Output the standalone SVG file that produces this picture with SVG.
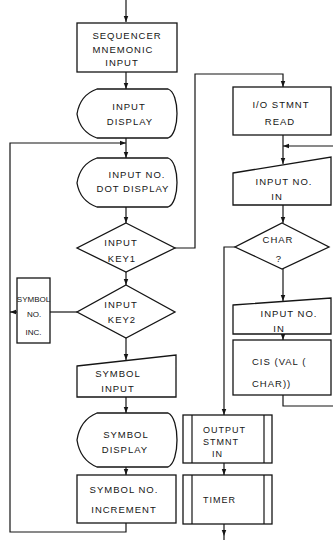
<svg xmlns="http://www.w3.org/2000/svg" width="333" height="540" viewBox="0 0 333 540">
<style>
.s{fill:#fff;stroke:#151515;stroke-width:1.3}
.c{fill:none;stroke:#151515;stroke-width:1.2}
text{font-family:"Liberation Sans","DejaVu Sans",sans-serif;font-size:9.5px;letter-spacing:1px;fill:#151515;text-anchor:middle}
.l{text-anchor:start}
.sm{font-size:8px;letter-spacing:0}
</style>
<defs>
<marker id="a" viewBox="0 0 8 8" refX="8" refY="4" markerWidth="6" markerHeight="6" markerUnits="userSpaceOnUse" orient="auto">
<path d="M0,1 L8,4 L0,7 Z" fill="#151515"/>
</marker>
</defs>
<g id="connectors">
<path class="c" d="M126,0 V22" marker-end="url(#a)"/>
<path class="c" d="M126,72 V89" marker-end="url(#a)"/>
<path class="c" d="M126,138 V158" marker-end="url(#a)"/>
<path class="c" d="M126,523 V532 H10 V143 H126" marker-end="url(#a)"/>
<path class="c" d="M126,207 V223" marker-end="url(#a)"/>
<path class="c" d="M126,272 V285" marker-end="url(#a)"/>
<path class="c" d="M175,248 H195 V74 H283 V87" marker-end="url(#a)"/>
<path class="c" d="M77,312 H50"/>
<path class="c" d="M17,312 H10" marker-end="url(#a)"/>
<path class="c" d="M126,338 V360" marker-end="url(#a)"/>
<path class="c" d="M126,397 V413" marker-end="url(#a)"/>
<path class="c" d="M126,467 V475" marker-end="url(#a)"/>
<path class="c" d="M283,135 V164" marker-end="url(#a)"/>
<path class="c" d="M283,395 V406 H337 V146 H283" marker-end="url(#a)"/>
<path class="c" d="M283,205 V223" marker-end="url(#a)"/>
<path class="c" d="M283,269 V301" marker-end="url(#a)"/>
<path class="c" d="M283,334 V340" marker-end="url(#a)"/>
<path class="c" d="M235,247 H224 V415" marker-end="url(#a)"/>
<path class="c" d="M224,463 V475" marker-end="url(#a)"/>
<path class="c" d="M224,524 V536" marker-end="url(#a)"/>
<path class="c" d="M224,536 V540"/>
</g>
<g id="seq">
<rect class="s" x="77" y="23" width="100" height="49"/>
<text x="127" y="38.5">SEQUENCER</text>
<text x="123" y="52.5">MNEMONIC</text>
<text x="122" y="66">INPUT</text>
</g>
<g id="inputDisplay">
<path class="s" d="M97,89 Q80,95 77,114 Q80,132 97,138 H168 C180,134 180,93 168,89 Z"/>
<text x="129" y="110">INPUT</text>
<text x="130" y="125">DISPLAY</text>
</g>
<g id="dotDisplay">
<path class="s" d="M97,158 Q80,164 77,183 Q80,201 97,207 H168 C180,203 180,162 168,158 Z"/>
<text x="137" y="178">INPUT NO.</text>
<text x="133" y="192">DOT DISPLAY</text>
</g>
<g id="key1">
<path class="s" d="M126,223 L175,248 L126,272 L77,248 Z"/>
<text x="121" y="245.5">INPUT</text>
<text x="122" y="261.5">KEY1</text>
</g>
<g id="key2">
<path class="s" d="M126,285 L175,312 L126,338 L77,312 Z"/>
<text x="121" y="308">INPUT</text>
<text x="122" y="323">KEY2</text>
</g>
<g id="symInc">
<rect class="s" x="17" y="278" width="33" height="65"/>
<text class="sm" x="33.5" y="302">SYMBOL</text>
<text class="sm" x="34" y="317">NO.</text>
<text class="sm" x="33.5" y="335">INC.</text>
</g>
<g id="symInput">
<path class="s" d="M77,366 L176,355 V397 H77 Z"/>
<text x="118" y="377">SYMBOL</text>
<text x="118" y="392">INPUT</text>
</g>
<g id="symDisplay">
<path class="s" d="M97,413 Q80,420 77,440 Q80,460 97,467 H168 C180,462 180,418 168,413 Z"/>
<text x="126" y="438">SYMBOL</text>
<text x="125" y="453">DISPLAY</text>
</g>
<g id="symIncrement">
<rect class="s" x="77" y="475" width="99" height="48"/>
<text x="124" y="493">SYMBOL NO.</text>
<text x="124" y="513">INCREMENT</text>
</g>
<g id="ioRead">
<rect class="s" x="233" y="87" width="98" height="48"/>
<text x="281" y="108">I/O STMNT</text>
<text x="280" y="125">READ</text>
</g>
<g id="inputNoIn1">
<path class="s" d="M233,173 L331,157 V205 H233 Z"/>
<text x="284" y="185">INPUT NO.</text>
<text x="277" y="200">IN</text>
</g>
<g id="char">
<path class="s" d="M282,223 L329,247 L282,269 L235,247 Z"/>
<text x="278" y="243">CHAR</text>
<text x="279" y="262">?</text>
</g>
<g id="inputNoIn2">
<path class="s" d="M233,305 L331,298 V334 H233 Z"/>
<text x="289" y="317">INPUT NO.</text>
<text x="279" y="332">IN</text>
</g>
<g id="cis">
<rect class="s" x="233" y="340" width="98" height="55"/>
<text class="l" x="252" y="365">CIS (VAL (</text>
<text class="l" x="252" y="387">CHAR))</text>
</g>
<g id="outputStmnt">
<rect class="s" x="183" y="415" width="89" height="48"/>
<path class="c" d="M192,415 V463 M264,415 V463"/>
<text class="l" x="203" y="433" style="font-size:9px">OUTPUT</text>
<text class="l" x="203" y="445" style="font-size:9px">STMNT</text>
<text class="l" x="212" y="457" style="font-size:9px">IN</text>
</g>
<g id="timer">
<rect class="s" x="183" y="475" width="89" height="49"/>
<path class="c" d="M192,475 V524 M264,475 V524"/>
<text class="l" x="203" y="503" style="font-size:9px">TIMER</text>
</g>
</svg>
